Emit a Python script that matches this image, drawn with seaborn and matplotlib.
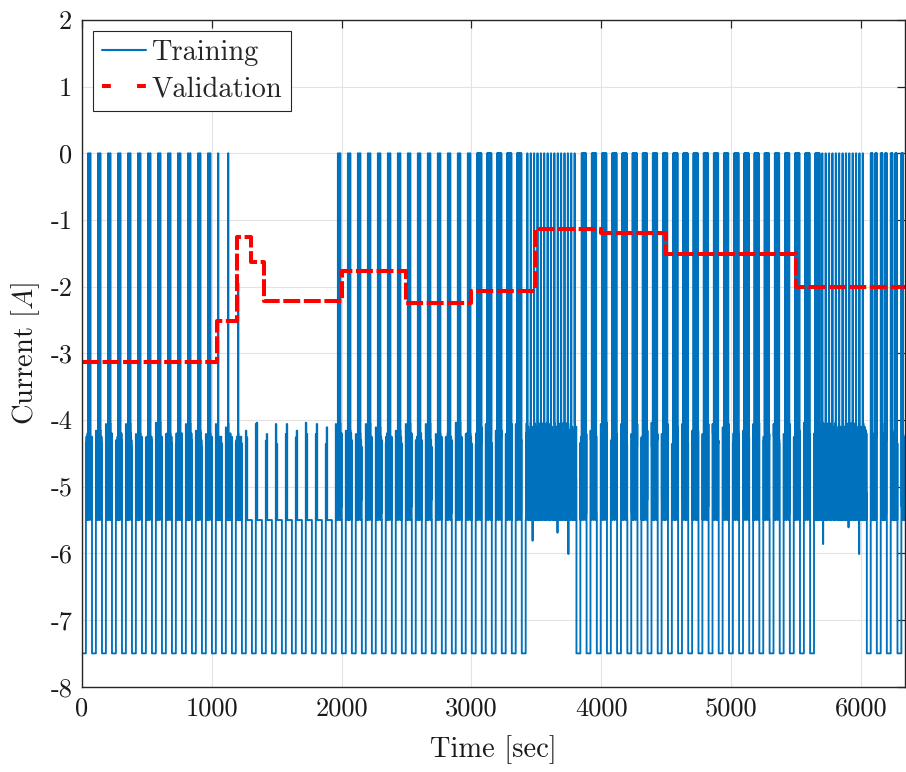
import matplotlib
matplotlib.use("Agg")
import matplotlib.pyplot as plt
import seaborn as sns
import pandas as pd
from matplotlib.lines import Line2D

# ------------------------------------------------------------------
# Training current profile (test schedule)
# ------------------------------------------------------------------
# start times [s] of the discharge pulses
pulse_start = [0, 77, 154, 231, 308, 385, 462, 539, 616, 693, 770, 847, 924,
               1001, 1078, 1155, 1232, 1309, 1386, 1463, 1540, 1617, 1694,
               1771, 1848, 1925, 2002, 2079, 2156, 2233, 2310, 2387, 2464,
               2541, 2618, 2695, 2772, 2849, 2926, 3003, 3080, 3157, 3234,
               3311, 3388,
               3809, 3887, 3966, 4044, 4122, 4201, 4279, 4357, 4435, 4514,
               4592, 4670, 4749, 4827, 4905, 4984, 5062, 5140, 5218, 5297,
               5375, 5453, 5531, 5609,
               6046, 6123, 6200, 6282]
# what follows each pulse:
#  W pair of short rests, S single short rest, G partial rest,
#  N sparse load, X drive cycle, D dense rest column, T two rest columns
pulse_code = ("WWWWWWWWWWWWW" "SS" "G" "NNNNNNNNN"
              "WWWWWWWWWWWWWW" "DDDDD" "X"
              "DDDDDDDDDDDDDDDDDDDDDDDD"
              "TTTT")
pulse_len = 30
discharge_level = -7.5
base_level = -5.5
rest_level = 0.0
partial_rest_level = -1.95

# peak load level of each cycle (repeats along the test)
band_top = [-4.34, -4.16, -4.06, -4.31, -4.06, -4.21, -4.26, -4.04,
            -4.21, -4.36, -4.06, -4.16, -4.21, -4.06, -4.11]
# load levels between the pulses, 2 s apart
band_pattern = [-5.5, -4.25, -5.5, -4.35, -5.3, -4.2, -5.5, -4.3,
                -5.2, -4.4, -5.5, -4.25, -5.4, -4.3]

# drive-cycle blocks
drive_start = [3418, 5640]
drive_end = [3809, 6046]
drive_pattern = [-5.5, -4.2, -5.1, -4.05, -5.5, -4.6, -4.3, -5.4, -4.1,
                 -4.9, -5.5, -4.4, -4.15, -5.2]
drive_rest_t = [3430, 3456, 3482, 3508, 3534, 3560, 3586, 3612, 3638, 3664,
                3690, 3716, 3742, 3768, 3794,
                5650, 5676, 5702, 5728, 5754, 5780, 5806, 5832, 5858, 5884,
                5910, 5936, 5962, 5988, 6014]
dip_t = [3470, 3662, 3746, 5708, 5904, 5986]
dip_level = [-5.81, -5.69, -6.01, -5.86, -5.61, -6.01]

t_stop = 6340

# ------------------------------------------------------------------
# Validation current profile
# ------------------------------------------------------------------
val_t = [0, 1040, 1197, 1300, 1402, 2000, 2497, 2997, 3490, 3997, 4497,
         5497, 6340]
val_i = [-3.13, -2.51, -1.26, -1.635, -2.21, -1.76, -2.25, -2.06, -1.13,
         -1.19, -1.51, -2.0, -2.0]

# ------------------------------------------------------------------
# assemble the step sequence of the training current
# ------------------------------------------------------------------
ev_t, ev_v = [], []
state = {"i": 0}


def put(t, v):
    ev_t.append(t)
    ev_v.append(v)


def band(a, b, first=None, pattern=band_pattern):
    t = a
    if first is not None and t < b:
        put(t, first)
        t += 2
    while t < b:
        put(t, pattern[state["i"] % len(pattern)])
        state["i"] += 1
        t += 2


def column(a, b):
    t = a
    while t < b:
        put(t, rest_level)
        t += 2
        if t < b:
            put(t, band_pattern[state["i"] % len(band_pattern)])
            state["i"] += 1
            t += 2


boundaries = sorted(pulse_start + drive_start + [t_stop])
for k, t0 in enumerate(pulse_start):
    code = pulse_code[k]
    t_end = min(b for b in boundaries if b > t0)
    top = band_top[k % len(band_top)]
    top2 = band_top[(k + 5) % len(band_top)]
    put(t0, discharge_level)
    a = t0 + pulse_len
    if code == "W":
        band(a, t0 + 46, top)
        put(t0 + 46, rest_level)
        band(t0 + 50, t0 + 60, top2)
        put(t0 + 60, rest_level)
        band(t0 + 66, t_end, top)
    elif code in "SG":
        band(a, t0 + 47, top)
        put(t0 + 47, rest_level if code == "S" else partial_rest_level)
        band(t0 + 50, t_end, top2)
    elif code == "N":
        put(a, top)
        put(a + 4, base_level)
        put(a + 7, top2)
        put(a + 11, base_level)
    elif code == "D":
        band(a, t0 + 40, top)
        column(t0 + 40, t0 + 76)
        band(t0 + 76, t_end, top2)
    elif code == "T":
        column(a, t0 + 43)
        band(t0 + 43, t0 + 64, top)
        column(t0 + 64, min(t0 + 77, t_end))
        band(t0 + 77, t_end, top2)

for a, b in zip(drive_start, drive_end):
    t = a
    j = 0
    while t < b:
        if t in drive_rest_t:
            put(t, rest_level)
        elif t in dip_t:
            put(t, dip_level[dip_t.index(t)])
        else:
            put(t, drive_pattern[j % len(drive_pattern)])
            j += 1
        t += 2

order = sorted(range(len(ev_t)), key=lambda n: ev_t[n])
train = pd.DataFrame({"t": [ev_t[n] for n in order],
                      "I": [ev_v[n] for n in order]})
train = train.drop_duplicates("t", keep="last")
train = pd.concat([train, pd.DataFrame({"t": [t_stop],
                                        "I": [train["I"].iloc[-1]]})])
valid = pd.DataFrame({"t": val_t, "I": val_i})

# ------------------------------------------------------------------
# figure
# ------------------------------------------------------------------
sns.set_style("white")
plt.rcParams["font.family"] = ["cmr10"]
plt.rcParams["mathtext.fontset"] = "cm"
plt.rcParams["axes.unicode_minus"] = False
plt.rcParams["axes.formatter.use_mathtext"] = True

blue = "#0072BD"
red = "#FF0000"
axis_c = "#262626"

fig = plt.figure(figsize=(9.06, 7.72), dpi=100)
ax = fig.add_axes([82 / 906, 1 - 686.7 / 772, (905 - 82) / 906,
                   (686.7 - 20) / 772])

sns.lineplot(data=train, x="t", y="I", ax=ax, color=blue, lw=1.35,
             drawstyle="steps-post", estimator=None, sort=False,
             legend=False)
sns.lineplot(data=valid, x="t", y="I", ax=ax, color=red, lw=2.9,
             drawstyle="steps-post", estimator=None, sort=False,
             legend=False)
ax.lines[-1].set_dashes([4.2, 0.9])

ax.set_xlim(0, t_stop)
ax.set_ylim(-8, 2)
ax.set_xticks([0, 1000, 2000, 3000, 4000, 5000, 6000])
ax.set_yticks(list(range(-8, 3)))
ax.set_xticklabels(["0", "1000", "2000", "3000", "4000", "5000", "6000"])
ax.set_yticklabels([str(v) for v in range(-8, 3)])

ax.grid(True, color="#e3e3e3", lw=0.8)
ax.set_axisbelow(True)
for s in ax.spines.values():
    s.set_visible(True)
    s.set_color(axis_c)
    s.set_linewidth(1.0)
ax.tick_params(direction="in", length=6, width=0.9, color=axis_c,
               labelsize=19, top=True, right=True, pad=7,
               labelcolor="#1a1a1a")

ax.set_xlabel("Time [sec]", fontsize=20.5, labelpad=11, color="#1a1a1a")
ax.set_ylabel("Current [$A$]", fontsize=20.5, labelpad=6, color="#1a1a1a")

handles = [Line2D([], [], color=blue, lw=1.5),
           Line2D([], [], color=red, lw=2.9, dashes=(2.2, 6.5))]
leg = ax.legend(handles, ["Training", "Validation"], loc="upper left",
                bbox_to_anchor=(0.0134, 0.9835), borderaxespad=0,
                fontsize=20.5, handlelength=1.55, handletextpad=0.2,
                labelspacing=0.35, borderpad=0.3, fancybox=False,
                framealpha=1, edgecolor=axis_c)
leg.get_frame().set_linewidth(0.8)

fig.savefig("out.png", dpi=100)
